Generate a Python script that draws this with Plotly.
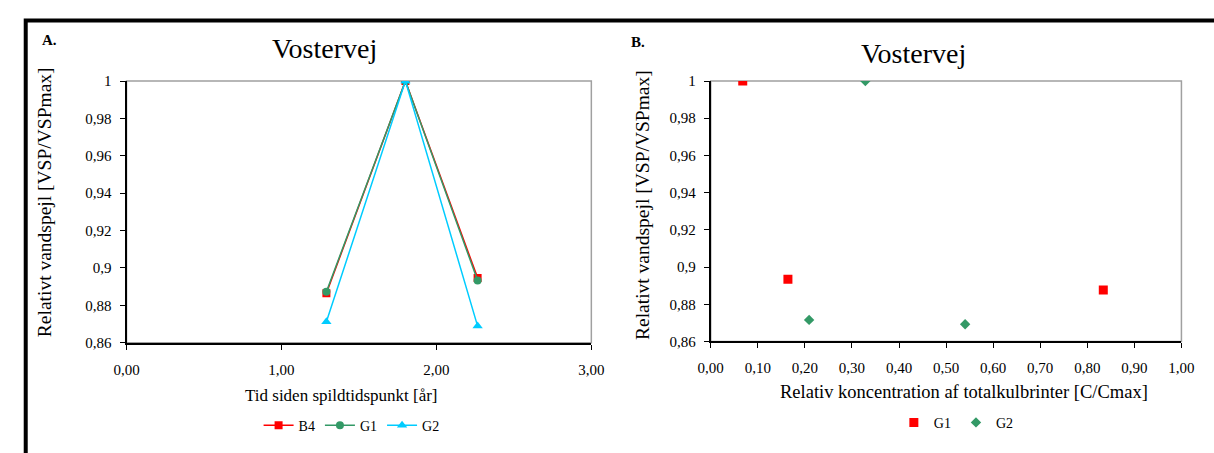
import plotly.graph_objects as go

W, H = 1214, 453

# ---- Data: panel A (time since spill vs relative water level)
time_years = [1.29, 1.80, 2.266]
b4_level = [0.8865, 1.0, 0.8947]
g1_level = [0.8873, 1.0, 0.8933]
g2_level = [0.8712, 1.0, 0.8689]

# ---- Data: panel B (relative concentration vs relative water level)
g1_conc = [0.068, 0.164, 0.834]
g1_conc_level = [1.0, 0.8935, 0.8877]
g2_conc = [0.3285, 0.209, 0.5405]
g2_conc_level = [1.0, 0.8716, 0.8693]

y_tickvals = [0.86, 0.88, 0.90, 0.92, 0.94, 0.96, 0.98, 1.0]
y_ticktext = ["0,86", "0,88", "0,9", "0,92", "0,94", "0,96", "0,98", "1"]
xa_tickvals = [0, 1, 2, 3]
xa_ticktext = ["0,00", "1,00", "2,00", "3,00"]
xb_tickvals = [i / 10 for i in range(11)]
xb_ticktext = ["0,00", "0,10", "0,20", "0,30", "0,40", "0,50", "0,60", "0,70", "0,80", "0,90", "1,00"]

RED = "#FF0000"
GREEN = "#339966"
CYAN = "#00CCFF"
FONT = "'Times New Roman', 'Liberation Serif', 'DejaVu Serif', serif"


def px(x):
    return x / W


def py(y):
    return 1 - y / H


fig = go.Figure()

fig.add_trace(go.Scatter(x=time_years, y=b4_level, name="B4", mode="lines+markers",
                         line=dict(color=RED, width=1.5),
                         marker=dict(symbol="square", size=8, color=RED),
                         xaxis="x", yaxis="y", legend="legend"))
fig.add_trace(go.Scatter(x=time_years, y=g1_level, name="G1", mode="lines+markers",
                         line=dict(color=GREEN, width=1.5),
                         marker=dict(symbol="circle", size=8, color=GREEN),
                         xaxis="x", yaxis="y", legend="legend"))
fig.add_trace(go.Scatter(x=time_years, y=g2_level, name="G2", mode="lines+markers",
                         line=dict(color=CYAN, width=1.5),
                         marker=dict(symbol="triangle-up", size=9, color=CYAN),
                         xaxis="x", yaxis="y", legend="legend"))

fig.add_trace(go.Scatter(x=g1_conc, y=g1_conc_level, name="G1", mode="markers",
                         marker=dict(symbol="square", size=9, color=RED),
                         xaxis="x2", yaxis="y2", legend="legend2"))
fig.add_trace(go.Scatter(x=g2_conc, y=g2_conc_level, name="G2", mode="markers",
                         marker=dict(symbol="diamond", size=8, color=GREEN),
                         xaxis="x2", yaxis="y2", legend="legend2"))

axis_common = dict(showgrid=False, zeroline=False, showline=True, linecolor="black",
                   linewidth=2, ticks="outside", ticklen=5, tickwidth=1, tickcolor="black",
                   tickfont=dict(family=FONT, size=15, color="black"))

fig.update_layout(
    width=W, height=H,
    margin=dict(l=0, r=0, t=0, b=0),
    paper_bgcolor="white", plot_bgcolor="white",
    font=dict(family=FONT, color="black"),
    xaxis=dict(domain=[px(116), px(591)], range=[0, 3], anchor="y",
               tickvals=xa_tickvals, ticktext=xa_ticktext, ticklabelstandoff=7, **axis_common),
    yaxis=dict(domain=[py(347), py(75.7)], range=[0.86, 1.0], anchor="x",
               tickvals=y_tickvals, ticktext=y_ticktext, ticklabelstandoff=5, **axis_common),
    xaxis2=dict(domain=[px(713), px(1194)], range=[0, 1], anchor="y2",
                tickvals=xb_tickvals, ticktext=xb_ticktext, ticklabelstandoff=7, **axis_common),
    yaxis2=dict(domain=[py(345.7), py(75.7)], range=[0.86, 1.0], anchor="x2",
                tickvals=y_tickvals, ticktext=y_ticktext, ticklabelstandoff=5, **axis_common),
    legend=dict(orientation="h", x=px(346), y=py(433), xanchor="center", yanchor="middle",
                font=dict(family=FONT, size=14, color="black"), bgcolor="rgba(0,0,0,0)",
                itemwidth=30, tracegroupgap=0),
    legend2=dict(orientation="h", x=px(964), y=py(430), xanchor="center", yanchor="middle",
                 font=dict(family=FONT, size=14, color="black"), bgcolor="rgba(0,0,0,0)",
                 itemwidth=30, tracegroupgap=0),
    showlegend=True,
)

# grey plot-area borders (top and right)
for xr, yr in (("x domain", "y domain"), ("x2 domain", "y2 domain")):
    fig.add_shape(type="rect", xref=xr, yref=yr, x0=0, x1=1, y0=0, y1=1,
                  line=dict(color="#A0A0A0", width=1.5), layer="below")

# outer black frame
fig.add_shape(type="rect", xref="paper", yref="paper", x0=px(13), x1=1.05, y0=-0.1, y1=py(13),
              line=dict(color="black", width=4))

annos = [
    dict(text="Vostervej", x=px(318), y=py(42), font=dict(size=28)),
    dict(text="Vostervej", x=px(920), y=py(47), font=dict(size=28)),
    dict(text="<b>A.</b>", x=px(37), y=py(33), font=dict(size=15)),
    dict(text="<b>B.</b>", x=px(639), y=py(35), font=dict(size=15)),
    dict(text="Tid siden spildtidspunkt [år]", x=px(336), y=py(402), font=dict(size=17)),
    dict(text="Relativ koncentration af totalkulbrinter [C/Cmax]", x=px(972), y=py(398), font=dict(size=18.5)),
    dict(text="Relativt vandspejl [VSP/VSPmax]", x=px(33), y=py(201), font=dict(size=19.5), textangle=-90),
    dict(text="Relativt vandspejl [VSP/VSPmax]", x=px(644), y=py(204), font=dict(size=19.5), textangle=-90),
]
for a in annos:
    f = dict(family=FONT, color="black")
    f.update(a.pop("font"))
    fig.add_annotation(xref="paper", yref="paper", showarrow=False, xanchor="center",
                       yanchor="middle", font=f, **a)

fig.write_html("out.html", config={"displayModeBar": False, "responsive": False},
               post_script="document.body.style.margin='0';document.body.style.overflow='hidden';")
